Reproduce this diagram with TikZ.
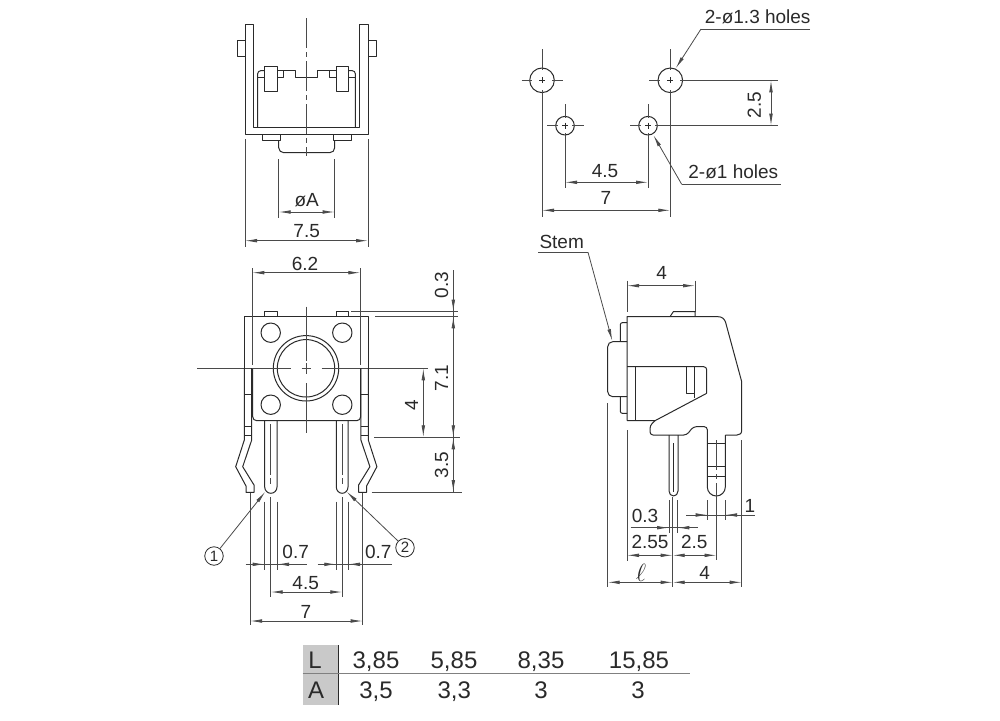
\documentclass[tikz,border=0pt]{standalone}
\usepackage{fontspec}
\setmainfont{Liberation Sans}
\usetikzlibrary{arrows.meta}
\definecolor{ink}{HTML}{2A2A2A}
\definecolor{dimc}{HTML}{4A4A4A}
\newcommand{\lbl}{\fontsize{19}{22}\selectfont}
\newcommand{\tbl}{\fontsize{24}{28}\selectfont}
\tikzset{
  part/.style={draw=ink,line width=1pt,line join=round},
  thin part/.style={draw=ink,line width=.8pt},
  dimline/.style={draw=dimc,line width=.8pt},
  dimboth/.style={dimline,{Latex[length=12pt,width=3.6pt]}-{Latex[length=12pt,width=3.6pt]}},
  dimto/.style={dimline,-{Latex[length=12pt,width=3.6pt]}},
  axisline/.style={draw=dimc,line width=.8pt,dash pattern=on 30pt off 4pt on 5pt off 4pt},
  txt/.style={font=\lbl,text=ink,inner sep=0pt},
  rtxt/.style={txt,rotate=90},
  ttxt/.style={font=\tbl,text=ink,inner sep=0pt,anchor=base},
  circled/.style={draw=ink,line width=.8pt,circle,minimum size=18.5pt,inner sep=0pt,font=\fontsize{15}{16}\selectfont,text=ink}
}
\begin{document}
\begin{tikzpicture}[x=1pt,y=-1pt]
\useasboundingbox (0,0) rectangle (1000,720);
\fill[white] (0,0) rectangle (1000,720);

%% ---------- top view
\draw[part] (253.7,24) -- (245,24) -- (245,134.3) -- (368,134.3) -- (368,24) -- (359.3,24) -- (359.3,127.3) -- (253.7,127.3) -- cycle;
\draw[part] (245,40.7) -- (237,40.7) -- (237,56) -- (245,56);
\draw[part] (368,40.7) -- (376.7,40.7) -- (376.7,56) -- (368,56);
\draw[part] (257.7,127.3) -- (257.7,74) [rounded corners=3pt] -- (257.7,70.7) -- (264.3,70.7);
\draw[part] (355.3,127.3) -- (355.3,74) [rounded corners=3pt] -- (355.3,70.7) -- (348.7,70.7);
\draw[thin part] (257.7,77) -- (264.3,77) (348.7,77) -- (355.3,77);
\draw[part,fill=white] (264.3,66) rectangle (277,91);
\draw[part,fill=white] (336.3,66) rectangle (348.7,91);
\draw[part] (277,70.7) -- (295.7,70.7) -- (295.7,77.3) -- (317.7,77.3) -- (317.7,70.7) -- (336.3,70.7);
\draw[part] (277,77.3) -- (283.7,77.3) -- (283.7,70.7);
\draw[part] (336.3,77.3) -- (329,77.3) -- (329,70.7);
\draw[part] (262,134.3) -- (262,140.7) -- (280.3,140.7) -- (280.3,134.3);
\draw[part] (333,134.3) -- (333,140.7) -- (351.3,140.7) -- (351.3,134.3);
\draw[part,rounded corners=5pt] (278.7,140.7) -- (278.7,152.7) -- (334.7,152.7) -- (334.7,140.7);
\draw[axisline] (306.7,18) -- (306.7,156);
\draw[dimline] (278.7,159.3) -- (278.7,218) (334.7,159.3) -- (334.7,218);
\draw[dimboth] (278.7,212) -- (334.7,212);
\node[txt] (dA) at (306.7,200) {øA};
\draw[dimline] (245,139) -- (245,247) (368,139) -- (368,247);
\draw[dimboth] (245,240.7) -- (368,240.7);
\node[txt] (d75) at (306.7,231) {7.5};

%% ---------- front view
\draw[part] (244,368) -- (244,316) -- (368.7,316) -- (368.7,368);
\draw[part] (264.7,316) -- (264.7,311.7) -- (277,311.7) -- (277,316);
\draw[part] (336.3,316) -- (336.3,311.7) -- (348.7,311.7) -- (348.7,316);
\draw[part,rounded corners=4pt] (252.7,368) -- (252.7,420.7) -- (360.7,420.7) -- (360.7,368);
\foreach \hx/\hy in {270.7/332.7,342.3/332.7,270.7/404.7,342.3/404.7}{
  \draw[part] (\hx,\hy) circle[radius=9.7];
}
\draw[part] (306,368.3) circle[radius=32.7];
\draw[part] (306,368.3) circle[radius=28.7];
\draw[dimline] (197,368.3) -- (291,368.3) (301.7,368.3) -- (311,368.3) (321.7,368.3) -- (428,368.3);
\draw[dimline] (306,306.7) -- (306,360.7) (306,363) -- (306,374) (306,383) -- (306,433);
% side plates and bent leads
\draw[part] (244.3,368) -- (244.3,440) -- (235.7,466.7) -- (246,486) -- (246,492.3) -- (254,492.3) -- (254,485) -- (242.7,466.7) -- (251.7,440) -- (251.7,368);
\draw[part] (368.3,368) -- (368.3,440) -- (376.9,466.7) -- (366.6,486) -- (366.6,492.3) -- (358.6,492.3) -- (358.6,485) -- (369.9,466.7) -- (360.9,440) -- (360.9,368);
\draw[thin part] (244.3,394.7) -- (251.7,394.7) (244.3,426.7) -- (251.7,426.7) (244.3,435.3) -- (251.7,435.3);
\draw[thin part] (360.9,394.7) -- (368.3,394.7) (360.9,426.7) -- (368.3,426.7) (360.9,435.3) -- (368.3,435.3);
% pins
\draw[part] (264.7,420.7) -- (264.7,487) arc[start angle=180,end angle=0,x radius=6.15,y radius=6.3] -- (277,420.7);
\draw[part] (336.3,420.7) -- (336.3,487) arc[start angle=180,end angle=0,x radius=5.85,y radius=6.3] -- (348,420.7);
\draw[dimline] (270.7,424) -- (270.7,475) (270.7,478) -- (270.7,484);
\draw[dimline] (342.3,424) -- (342.3,475) (342.3,478) -- (342.3,484);
% front dims
\draw[dimline] (252.3,268) -- (252.3,365) (360.3,268) -- (360.3,365);
\draw[dimboth] (252.3,272.7) -- (360.3,272.7);
\node[txt] (d62) at (305,264) {6.2};
\draw[dimline] (351,311.7) -- (458,311.7) (375,316.3) -- (458,316.3) (374,437.3) -- (460,437.3) (371.7,492) -- (462,492);
\draw[dimline] (453.3,270) -- (453.3,492);
\draw[dimto] (453.3,298) -- (453.3,311.7);
\draw[dimto] (453.3,330) -- (453.3,316.3);
\draw[dimto] (453.3,424) -- (453.3,437.3);
\draw[dimto] (453.3,451) -- (453.3,437.3);
\draw[dimto] (453.3,478) -- (453.3,492);
\draw[dimboth] (423.3,368.3) -- (423.3,437.3);
\node[rtxt] (d03a) at (441.7,285) {0.3};
\node[rtxt] (d71) at (441.7,378) {7.1};
\node[rtxt] (d4a) at (411.7,405) {4};
\node[rtxt] (d35) at (441.7,465) {3.5};
% below pins
\draw[dimline] (264.7,501.7) -- (264.7,570) (277,501.7) -- (277,570) (336.3,501.7) -- (336.3,570) (348,501.7) -- (348,570);
\draw[dimline] (270.7,497) -- (270.7,597);
\draw[dimline] (342.3,497) -- (342.3,597);
\draw[dimline] (250,493) -- (250,625) (362.7,493) -- (362.7,625);
\draw[dimline] (245.7,564.3) -- (307.3,564.3) (317.7,564.3) -- (391.7,564.3);
\draw[dimto] (252,564.3) -- (264.7,564.3);
\draw[dimto] (290,564.3) -- (277,564.3);
\draw[dimto] (323,564.3) -- (336.3,564.3);
\draw[dimto] (361,564.3) -- (348,564.3);
\node[txt] (d07a) at (295.7,551.7) {0.7};
\node[txt] (d07b) at (378.3,551.7) {0.7};
\draw[dimboth] (270.7,592) -- (342.3,592);
\node[txt] (d45a) at (305.7,583) {4.5};
\draw[dimboth] (250,621) -- (362.7,621);
\node[txt] (d7a) at (306,612) {7};
\node[circled] (c1) at (214,556) {1};
\node[circled] (c2) at (405,547.7) {2};
\coordinate (t1) at (265.3,491.7);
\coordinate (t2) at (346.7,491.7);
\draw[dimto] (c1) -- (t1);
\draw[dimto] (c2) -- (t2);

%% ---------- hole pattern
\foreach \hx/\hy/\hr in {542/80.3/12.3,670.3/80.3/12.3,565/125.7/9.3,648/125.7/9.3}{
  \draw[part] (\hx,\hy) circle[radius=\hr];
  \draw[thin part] (\hx-3,\hy) -- (\hx+3,\hy) (\hx,\hy-3) -- (\hx,\hy+3);
}
\draw[dimline] (521.7,80.3) -- (532,80.3) (552,80.3) -- (562.7,80.3) (542,49.3) -- (542,70) (542,90) -- (542,216.7);
\draw[dimline] (649.3,80.3) -- (660,80.3) (680,80.3) -- (777.7,80.3) (670.3,49.3) -- (670.3,70) (670.3,90) -- (670.3,216.7);
\draw[dimline] (547.3,125.7) -- (558,125.7) (572,125.7) -- (584,125.7) (565,104.3) -- (565,118) (565,133) -- (565,188.3);
\draw[dimline] (630,125.7) -- (641,125.7) (655,125.7) -- (777.7,125.7) (648,104.3) -- (648,118) (648,133) -- (648,188.3);
\draw[dimboth] (771,80.3) -- (771,125.7);
\node[rtxt] (d25a) at (754.3,105) {2.5};
\draw[dimboth] (565,182.3) -- (648,182.3);
\node[txt] (d45b) at (605,171) {4.5};
\draw[dimboth] (542,210.3) -- (670.3,210.3);
\node[txt] (d7b) at (606,198) {7};
\node[txt] (h13) at (757.7,16.7) {2-ø1.3 holes};
\node[txt] (h1) at (733.3,171.7) {2-ø1 holes};
\coordinate (u13) at (701,29);
\coordinate (t13) at (675.7,68.3);
\coordinate (u1) at (681.7,184.3);
\coordinate (t11) at (653.3,135);
\draw[dimline] (810,29) -- (u13);
\draw[dimto] (u13) -- (t13);
\draw[dimline] (780.7,184.3) -- (u1);
\draw[dimto] (u1) -- (t11);

%% ---------- side view
\node[txt] (stem) at (561.7,241.7) {Stem};
\coordinate (us) at (588,252.3);
\coordinate (ts) at (612.3,341);
\draw[dimline] (538,252.3) -- (us);
\draw[dimto] (us) -- (ts);
\draw[dimline] (627,280.7) -- (627,311.7) (695,280.7) -- (695,311.7);
\draw[dimboth] (627,285.7) -- (695,285.7);
\node[txt] (d4b) at (661.7,273) {4};
% body
\draw[part] (627,420.7) -- (627,316.7) -- (718,316.7) .. controls (722,316.7) and (724,318.5) .. (725.5,322) -- (741.7,381.7) -- (741.7,430) .. controls (741.7,433.5) and (740,435) .. (737,435) -- (725.3,435);
\draw[part] (670,316.7) -- (673.3,311.7) -- (695,311.7) -- (695,316.7);
\draw[part,rounded corners=3pt] (655,420.7) -- (650,425.5) -- (650,435) -- (686.7,435) -- (693.3,426.7) -- (707.3,426.7) -- (707.3,440);
\draw[part] (627,420.7) -- (655,420.7) -- (706.7,393.3);
\draw[part,rounded corners=3pt] (706.7,393.3) -- (706.7,366.7) -- (627,366.7);
\draw[part] (635.7,366.7) -- (635.7,420.7);
\draw[part] (694.7,366.7) -- (694.7,398) (686.3,366.7) -- (686.3,393.3) -- (694.7,393.3);
% stem and tabs
\draw[part,rounded corners=5pt] (627,341.7) -- (607.7,341.7) -- (607.7,396.7) -- (627,396.7);
\draw[part,rounded corners=2pt] (627,322.7) -- (620.3,322.7) -- (620.3,341.7);
\draw[part,rounded corners=2pt] (620.3,396.7) -- (620.3,413.3) -- (627,413.3);
% pins
\draw[part] (669,435) -- (669,491) arc[start angle=180,end angle=0,x radius=4.5,y radius=5] -- (678,435);
\draw[thin part] (673.5,443) -- (673.5,492);
\draw[part] (707.3,440) -- (707.3,487) arc[start angle=180,end angle=0,x radius=9,y radius=9] -- (725.3,435);
\draw[thin part] (707.3,443.3) -- (725.3,443.3) (707.3,466) -- (725.3,466) (707.3,476.7) -- (725.3,476.7);
\draw[axisline] (716.5,440) -- (716.5,496);
% side dims
\draw[dimline] (627,430) -- (627,561) (607.7,403) -- (607.7,587) (672.7,497) -- (672.7,587) (741.7,440) -- (741.7,587) (716.5,496) -- (716.5,560);
\draw[dimline] (669,500) -- (669,533) (677.3,500) -- (677.3,533);
\draw[dimline] (707.7,500) -- (707.7,520) (725,500) -- (725,520);
\draw[dimline] (686,515) -- (755,515) (630.7,527.7) -- (698.3,527.7);
\draw[dimto] (693,515) -- (707.7,515);
\draw[dimto] (739,515) -- (725,515);
\draw[dimto] (655,527.7) -- (669,527.7);
\draw[dimto] (691,527.7) -- (677.3,527.7);
\node[txt] (d1) at (750,506) {1};
\node[txt] (d03b) at (645,516) {0.3};
\draw[dimboth] (627,555.3) -- (672.7,555.3);
\draw[dimboth] (672.7,555.3) -- (716.5,555.3);
\node[txt] (d255) at (650,542) {2.55};
\node[txt] (d25b) at (694.3,542) {2.5};
\draw[dimboth] (607.7,582.3) -- (672.7,582.3);
\draw[dimboth] (672.7,582.3) -- (741.7,582.3);
\node[txt,font=\fontsize{24}{26}\selectfont] (dl) at (641,572.7) {$\ell$};
\node[txt] (d4c) at (704.7,572.7) {4};

%% ---------- table
\fill[black!21] (302.7,645) rectangle (338.3,705);
\draw[draw=ink,line width=1pt] (338.3,645) -- (338.3,705);
\draw[draw=black!50,line width=1.5pt] (302.7,673.7) -- (690,673.7);
\node[ttxt] (tL) at (315,668.3) {L};
\node[ttxt] (tA) at (316,698.3) {A};
\node[ttxt] (a1) at (376,668.3) {3,85};
\node[ttxt] (a2) at (454,668.3) {5,85};
\node[ttxt] (a3) at (541,668.3) {8,35};
\node[ttxt] (a4) at (639,668.3) {15,85};
\node[ttxt] (b1) at (376,698.3) {3,5};
\node[ttxt] (b2) at (454.3,698.3) {3,3};
\node[ttxt] (b3) at (541,698.3) {3};
\node[ttxt] (b4) at (638,698.3) {3};
\end{tikzpicture}
\end{document}
